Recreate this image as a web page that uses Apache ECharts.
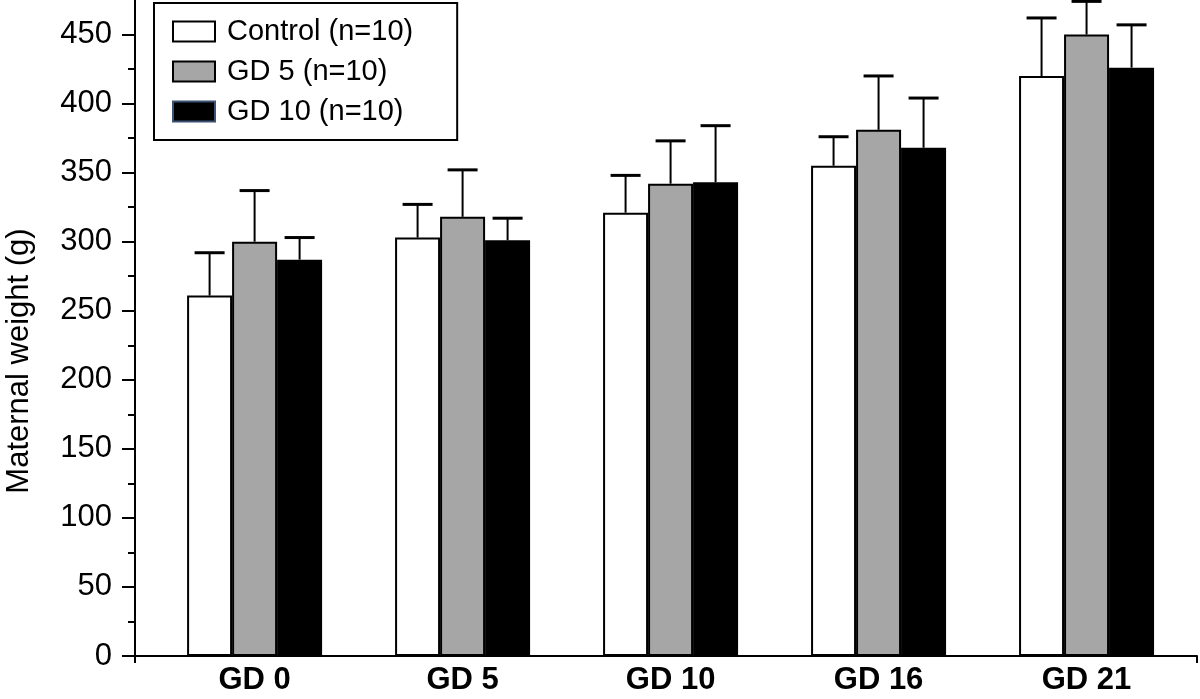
<!DOCTYPE html>
<html>
<head>
<meta charset="utf-8">
<script src="https://cdn.jsdelivr.net/npm/echarts@6/dist/echarts.min.js"></script>
<style>
html,body{margin:0;padding:0;background:#fff;}
#chart{width:1200px;height:699px;}
</style>
</head>
<body>
<div id="chart"></div>
<script>
// ---- data ----
const categories = ['GD 0', 'GD 5', 'GD 10', 'GD 16', 'GD 21'];
const seriesNames = ['Control (n=10)', 'GD 5 (n=10)', 'GD 10 (n=10)'];
const controlMean = [261, 303, 321, 355, 420];
const controlSD   = [31, 24, 27, 21, 42];
const gd5Mean     = [300, 318, 342, 381, 450];
const gd5SD       = [37, 34, 31, 39, 24];
const gd10Mean    = [287, 301, 343, 368, 426];
const gd10SD      = [16, 16, 41, 36, 31];
const yMajorTicks = [0, 50, 100, 150, 200, 250, 300, 350, 400, 450];
const yMinorTicks = [25, 75, 125, 175, 225, 275, 325, 375, 425];
const yMax = 475;
const xMin = -0.575, xMax = 4.531;
const xTickValues = [xMin, xMax];

// ---- styles ----
const FONT = 'Liberation Sans, Arial, sans-serif';
const BAR_W = 45;
const fills = ['#ffffff', '#a6a6a6', '#000000'];
const means = [controlMean, gd5Mean, gd10Mean];
const sds = [controlSD, gd5SD, gd10SD];

const barSeries = seriesNames.map((name, s) => ({
  name: name,
  type: 'bar',
  barWidth: BAR_W,
  barGap: '0%',
  data: means[s].map((v, i) => [i, v]),
  itemStyle: { color: fills[s], borderColor: '#000', borderWidth: 2 },
  emphasis: { disabled: true },
  z: 2
}));

const errSeries = seriesNames.map((name, s) => ({
  type: 'custom',
  data: means[s].map((v, i) => [i, v, v + sds[s][i]]),
  renderItem: function (params, api) {
    const x = api.value(0);
    const p0 = api.coord([x, api.value(1)]);
    const p1 = api.coord([x, api.value(2)]);
    const dx = (s - 1) * BAR_W;
    const cx = p0[0] + dx;
    return {
      type: 'group',
      children: [
        { type: 'line', shape: { x1: cx, y1: p0[1], x2: cx, y2: p1[1] },
          style: { stroke: '#000', lineWidth: 2 } },
        { type: 'line', shape: { x1: cx - 15, y1: p1[1], x2: cx + 15, y2: p1[1] },
          style: { stroke: '#000', lineWidth: 3 } }
      ]
    };
  },
  silent: true,
  z: 3
}));

const chart = echarts.init(document.getElementById('chart'), null, { renderer: 'canvas' });
chart.setOption({
  animation: false,
  backgroundColor: '#fff',
  textStyle: { fontFamily: FONT, color: '#000' },
  grid: { left: 135, right: 3, top: 0, bottom: 43, outerBoundsMode: 'none' },
  legend: {
    orient: 'vertical',
    left: 154,
    top: 3,
    padding: [14, 44, 14, 18],
    itemWidth: 42,
    itemHeight: 20,
    itemGap: 11,
    icon: 'rect',
    selectedMode: false,
    borderColor: '#000',
    borderWidth: 2,
    backgroundColor: '#fff',
    textStyle: { fontSize: 29, color: '#000', fontFamily: FONT, padding: [0, 0, 0, 7] },
    data: [
      { name: seriesNames[0] },
      { name: seriesNames[1] },
      { name: seriesNames[2], itemStyle: { borderColor: '#3b5273' } }
    ]
  },
  xAxis: {
    type: 'value',
    min: xMin,
    max: xMax,
    splitLine: { show: false },
    axisLine: { show: true, onZero: false, lineStyle: { color: '#000', width: 2 } },
    axisTick: { show: true, customValues: xTickValues, length: 7, lineStyle: { color: '#000', width: 2 } },
    axisLabel: {
      customValues: [0, 1, 2, 3, 4],
      formatter: v => categories[Math.round(v)],
      fontSize: 31, fontWeight: 'bold', color: '#000', margin: 9,
      fontFamily: FONT
    }
  },
  yAxis: [
    {
      type: 'value',
      min: 0,
      max: yMax,
      name: 'Maternal weight (g)',
      nameLocation: 'middle',
      nameGap: 100,
      nameTextStyle: { fontSize: 31, color: '#000', fontFamily: FONT, padding: [0, 66, 0, 0] },
      splitLine: { show: false },
      axisLine: { show: true, onZero: false, lineStyle: { color: '#000', width: 2 } },
      axisTick: { show: true, customValues: yMajorTicks, length: 13, lineStyle: { color: '#000', width: 2 } },
      axisLabel: { customValues: yMajorTicks, fontSize: 31, color: '#000', margin: 23, fontFamily: FONT }
    },
    {
      type: 'value',
      min: 0,
      max: yMax,
      position: 'left',
      splitLine: { show: false },
      axisLine: { show: false, onZero: false },
      axisTick: { show: true, customValues: yMinorTicks, length: 7, lineStyle: { color: '#000', width: 2 } },
      axisLabel: { show: false }
    }
  ],
  series: barSeries.concat(errSeries)
});
</script>
</body>
</html>
